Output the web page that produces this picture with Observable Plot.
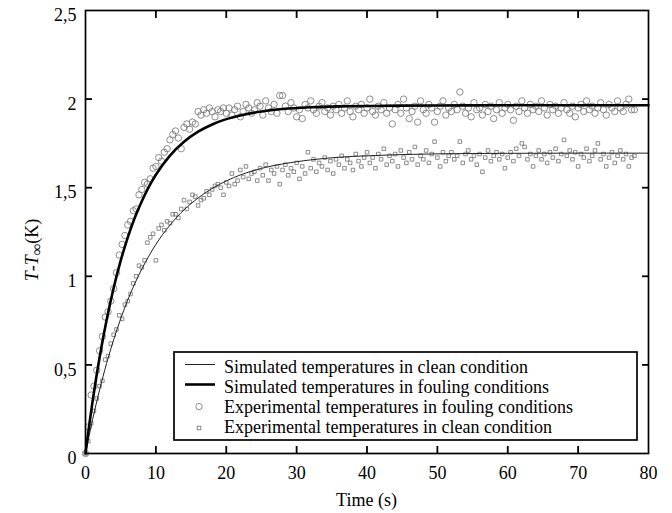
<!DOCTYPE html>
<html><head><meta charset="utf-8">
<script src="https://cdn.jsdelivr.net/npm/d3@7"></script>
<script src="https://cdn.jsdelivr.net/npm/@observablehq/plot@0.6"></script>
<style>
html,body{margin:0;padding:0;background:#fff;}
#chart{position:relative;width:672px;height:513px;}
</style>
</head><body><div id="chart"></div>
<script>
// Simulated curves
const simTime = [0,0.5,1,1.5,2,3,4,5,6,7,8,9,10,12,14,16,18,20,22,25,28,32,36,40,45,50,60,70,80];
const simFouling = [0,0.152,0.293,0.422,0.542,0.754,0.934,1.088,1.218,1.330,1.424,1.505,1.573,1.681,1.759,1.816,1.857,1.887,1.908,1.930,1.944,1.954,1.959,1.961,1.963,1.964,1.965,1.965,1.965];
const simClean = [0,0.098,0.190,0.277,0.359,0.509,0.642,0.760,0.866,0.958,1.041,1.114,1.180,1.289,1.375,1.442,1.496,1.538,1.572,1.609,1.634,1.657,1.672,1.680,1.687,1.691,1.694,1.695,1.695];

const expTime = [
0,0.4,0.8,1.2,1.6,2,2.4,2.8,3.2,3.6,
4,4.4,4.8,5.2,5.6,6,6.4,6.8,7.2,7.6,
8,8.4,8.8,9.2,9.6,10,10.4,10.8,11.2,11.6,
12,12.4,12.8,13.2,13.6,14,14.4,14.8,15.2,15.6,
16,16.4,16.8,17.2,17.6,18,18.4,18.8,19.2,19.6,
20,20.4,20.8,21.2,21.6,22,22.4,22.8,23.2,23.6,
24,24.4,24.8,25.2,25.6,26,26.4,26.8,27.2,27.6,
28,28.4,28.8,29.2,29.6,30,30.4,30.8,31.2,31.6,
32,32.4,32.8,33.2,33.6,34,34.4,34.8,35.2,35.6,
36,36.4,36.8,37.2,37.6,38,38.4,38.8,39.2,39.6,
40,40.4,40.8,41.2,41.6,42,42.4,42.8,43.2,43.6,
44,44.4,44.8,45.2,45.6,46,46.4,46.8,47.2,47.6,
48,48.4,48.8,49.2,49.6,50,50.4,50.8,51.2,51.6,
52,52.4,52.8,53.2,53.6,54,54.4,54.8,55.2,55.6,
56,56.4,56.8,57.2,57.6,58,58.4,58.8,59.2,59.6,
60,60.4,60.8,61.2,61.6,62,62.4,62.8,63.2,63.6,
64,64.4,64.8,65.2,65.6,66,66.4,66.8,67.2,67.6,
68,68.4,68.8,69.2,69.6,70,70.4,70.8,71.2,71.6,
72,72.4,72.8,73.2,73.6,74,74.4,74.8,75.2,75.6,
76,76.4,76.8,77.2,77.6,78];
const expFouling = [
0.00,0.15,0.33,0.38,0.47,0.58,0.66,0.77,0.80,0.86,
0.93,1.02,1.12,1.18,1.23,1.29,1.31,1.37,1.38,1.46,
1.49,1.53,1.52,1.55,1.61,1.62,1.67,1.65,1.70,1.72,
1.77,1.80,1.82,1.78,1.72,1.84,1.86,1.83,1.87,1.86,
1.93,1.91,1.94,1.92,1.95,1.93,1.90,1.94,1.93,1.95,
1.92,1.95,1.91,1.94,1.96,1.90,1.93,1.97,1.95,1.92,
1.94,1.98,1.96,1.91,1.99,1.95,1.93,1.97,1.92,2.02,
2.02,1.96,1.93,1.98,1.95,1.90,1.94,1.89,1.97,1.95,
1.99,1.94,1.92,1.96,1.98,1.93,1.95,1.91,1.96,1.94,
1.97,1.92,1.95,1.99,1.93,1.90,1.96,1.94,1.97,1.92,
1.95,2.00,1.93,1.91,1.96,1.94,1.98,1.92,1.95,1.86,
1.94,1.97,1.92,2.00,1.95,1.89,1.93,1.96,1.87,1.99,
1.94,1.92,1.97,1.95,1.87,1.93,1.96,1.99,1.91,1.95,
1.93,1.97,1.94,2.04,1.96,1.92,1.95,1.90,1.98,1.94,
1.95,1.91,1.97,1.93,1.96,1.89,1.94,1.98,1.92,1.95,
1.97,1.94,1.88,1.96,1.93,1.99,1.95,1.92,1.97,1.94,
1.96,1.93,1.99,1.95,1.91,1.97,1.94,1.96,1.92,1.95,
1.98,1.94,1.92,1.96,1.90,1.95,1.97,1.93,1.99,1.94,
1.96,1.92,1.95,1.98,1.94,1.91,1.97,1.95,1.93,1.99,
1.95,1.93,1.97,2.00,1.94,1.94];
const expClean = [
0.00,0.07,0.17,0.24,0.31,0.38,0.41,0.53,0.55,0.62,
0.67,0.70,0.78,0.76,0.84,0.86,0.90,0.96,1.00,1.06,
1.05,1.09,1.19,1.22,1.24,1.09,1.27,1.29,1.26,1.31,
1.30,1.35,1.35,1.33,1.38,1.43,1.38,1.42,1.46,1.45,
1.40,1.43,1.44,1.48,1.46,1.49,1.51,1.52,1.50,1.46,
1.53,1.51,1.58,1.52,1.54,1.60,1.56,1.62,1.55,1.58,
1.59,1.54,1.61,1.57,1.63,1.54,1.60,1.58,1.62,1.52,
1.60,1.63,1.57,1.61,1.59,1.64,1.55,1.62,1.58,1.70,
1.61,1.66,1.59,1.64,1.62,1.67,1.60,1.65,1.58,1.66,
1.63,1.68,1.61,1.66,1.64,1.60,1.69,1.65,1.62,1.67,
1.70,1.64,1.67,1.61,1.69,1.66,1.72,1.63,1.68,1.65,
1.69,1.62,1.71,1.67,1.64,1.70,1.66,1.73,1.63,1.68,
1.66,1.71,1.64,1.69,1.76,1.67,1.62,1.70,1.65,1.68,
1.70,1.66,1.68,1.76,1.64,1.69,1.71,1.66,1.68,1.63,
1.69,1.59,1.67,1.71,1.65,1.68,1.70,1.66,1.69,1.61,
1.67,1.70,1.65,1.72,1.68,1.75,1.73,1.66,1.69,1.62,
1.68,1.71,1.66,1.69,1.64,1.70,1.67,1.72,1.65,1.69,
1.77,1.68,1.71,1.66,1.70,1.62,1.69,1.67,1.72,1.65,
1.68,1.71,1.75,1.66,1.69,1.62,1.67,1.70,1.64,1.68,
1.71,1.66,1.69,1.62,1.67,1.68];

const xTicks = [0,10,20,30,40,50,60,70,80];
const yTicks = [0,0.5,1,1.5,2,2.5];
const legendLabels = [
  "Simulated temperatures in clean condition",
  "Simulated temperatures in fouling conditions",
  "Experimental temperatures in fouling conditions",
  "Experimental temperatures in clean condition"
];
const xLabel = "Time (s)";

const fmtY = d => String(d).replace(".", ",");
const simRows = simTime.map((t, i) => ({t, clean: simClean[i], fouling: simFouling[i]}));
const expRows = expTime.map((t, i) => ({t, clean: expClean[i], fouling: expFouling[i]}));

const font = "'Liberation Serif', 'Times New Roman', serif";
const grey = "#787878";
const inner = a => a.slice(1, -1);
const blank = () => "";

const W = 672, H = 513, mL = 85, mR = 24, mT = 10, mB = 60;
const tk = 7;
const tickOpts = {tickSize: -tk, tickFormat: blank, label: null, stroke: "black", strokeWidth: 1.8};

const plot = Plot.plot({
  width: W, height: H,
  marginLeft: mL, marginRight: mR, marginTop: mT, marginBottom: mB,
  style: {fontFamily: font, fontSize: "18px", background: "white", color: "black", overflow: "visible"},
  x: {domain: [0, 80]},
  y: {domain: [0, 2.5]},
  marks: [
    Plot.dot(expRows, {x: "t", y: "fouling", r: 3.2, stroke: grey, strokeWidth: 0.85, fill: "none"}),
    Plot.dot(expRows, {x: "t", y: "clean", symbol: "square", r: 2, stroke: grey, strokeWidth: 0.85, fill: "none"}),
    Plot.line(simRows, {x: "t", y: "clean", stroke: "#222", strokeWidth: 1, curve: "monotone-x"}),
    Plot.line(simRows, {x: "t", y: "fouling", stroke: "#000", strokeWidth: 2.6, curve: "monotone-x"}),
    Plot.axisX({ticks: xTicks, tickSize: 0, tickPadding: 13, tickFormat: d => String(d), label: null}),
    Plot.axisY({ticks: yTicks, tickSize: 0, tickPadding: 9, dy: 5, tickFormat: fmtY, label: null}),
    // inward ticks on all four sides
    Plot.axisX({ticks: inner(xTicks), ...tickOpts}),
    Plot.axisX({anchor: "top", ticks: inner(xTicks), ...tickOpts}),
    Plot.axisY({ticks: inner(yTicks), ...tickOpts}),
    Plot.axisY({anchor: "right", ticks: inner(yTicks), ...tickOpts}),
    Plot.frame({stroke: "black", strokeWidth: 1.7})
  ]
});

document.getElementById("chart").appendChild(plot);
const svg = d3.select(plot);
const sx = plot.scale("x");
const x0 = sx.apply(0), x1 = sx.apply(80);

// Axis titles
svg.append("text").attr("x", (x0 + x1) / 2).attr("y", 506).attr("text-anchor", "middle")
  .attr("font-size", 18).attr("font-family", font).attr("fill", "black").text(xLabel);

const yl = svg.append("text").attr("transform", "translate(38,250) rotate(-90)")
  .attr("text-anchor", "middle").attr("font-size", 18).attr("font-family", font).attr("fill", "black");
yl.append("tspan").attr("font-style", "italic").text("T");
yl.append("tspan").text("-");
yl.append("tspan").attr("font-style", "italic").text("T");
yl.append("tspan").attr("font-style", "italic").attr("font-size", 16).attr("dy", 4).text("\u221E");
yl.append("tspan").attr("dy", -4).text("(K)");

// Legend inside plot
const lg = svg.append("g").attr("font-family", font).attr("font-size", 18).attr("fill", "black").attr("text-anchor", "start");
lg.append("rect").attr("x", 174).attr("y", 352).attr("width", 463).attr("height", 88)
  .attr("fill", "white").attr("stroke", "black").attr("stroke-width", 1.7);
const rowY = [373, 393, 413, 433];
legendLabels.forEach((s, i) => {
  lg.append("text").attr("x", 224).attr("y", rowY[i]).attr("text-anchor", "start").text(s);
});
lg.append("line").attr("x1", 185).attr("x2", 215).attr("y1", 364.5).attr("y2", 364.5).attr("stroke", "#222").attr("stroke-width", 1);
lg.append("line").attr("x1", 185).attr("x2", 215).attr("y1", 384.5).attr("y2", 384.5).attr("stroke", "#000").attr("stroke-width", 2.6);
lg.append("circle").attr("cx", 199).attr("cy", 406.5).attr("r", 3.2).attr("fill", "none").attr("stroke", grey).attr("stroke-width", 0.85);
lg.append("rect").attr("x", 197.2).attr("y", 426.2).attr("width", 3.6).attr("height", 3.6).attr("fill", "none").attr("stroke", grey).attr("stroke-width", 0.85);
</script>
</body></html>
